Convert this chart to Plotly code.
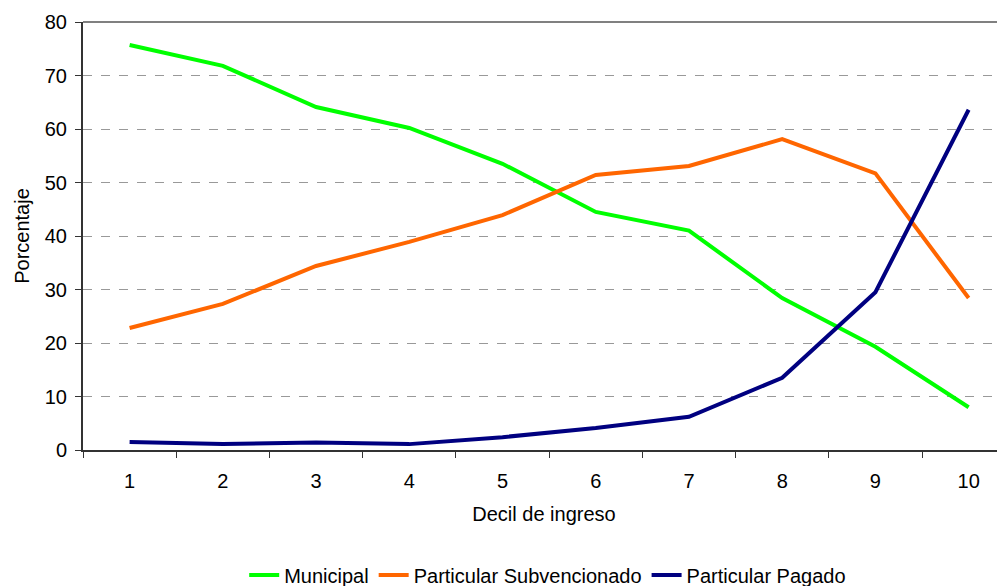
import plotly.graph_objects as go

deciles = [1, 2, 3, 4, 5, 6, 7, 8, 9, 10]
municipal = [75.7, 71.8, 64.1, 60.2, 53.5, 44.5, 41.0, 28.4, 19.3, 8.0]
subvencionado = [22.8, 27.3, 34.4, 38.9, 43.9, 51.4, 53.1, 58.1, 51.7, 28.4]
pagado = [1.5, 1.1, 1.4, 1.1, 2.4, 4.1, 6.2, 13.5, 29.5, 63.6]
y_ticks = [0, 10, 20, 30, 40, 50, 60, 70, 80]

FONT = "Liberation Sans, Arial, sans-serif"
FS = 20

fig = go.Figure()
for name, vals, color in [
    ("Municipal", municipal, "#00FF00"),
    ("Particular Subvencionado", subvencionado, "#FF6600"),
    ("Particular Pagado", pagado, "#000080"),
]:
    fig.add_trace(go.Scatter(x=deciles, y=vals, mode="lines", name=name,
                             line=dict(color=color, width=4)))

fig.update_layout(
    width=997, height=578,
    margin=dict(l=75, r=0, t=14, b=136, autoexpand=False),
    paper_bgcolor="white", plot_bgcolor="white",
    font=dict(family=FONT, size=FS, color="#000000"),
    showlegend=True,
    legend=dict(orientation="h", x=0.504, xanchor="center",
                y=-0.292, yanchor="middle",
                font=dict(size=FS), tracegroupgap=0),
    xaxis=dict(
        range=[0.5, 10.39], tickvals=deciles, ticktext=[str(d) for d in deciles],
        ticks="", showgrid=False, zeroline=False,
        showline=True, linecolor="#333333", linewidth=2,
        tickfont=dict(size=FS), ticklabelstandoff=12,
        minor=dict(ticks="outside", tick0=0.5, dtick=1, ticklen=6,
                   tickcolor="#333333", tickwidth=1, showgrid=False),
        title=dict(text="Decil de ingreso", font=dict(size=FS), standoff=16),
    ),
    yaxis=dict(
        range=[0, 80], tickvals=y_ticks, ticks="outside", ticklen=6,
        tickcolor="#333333", showgrid=True, gridcolor="#999999", griddash="dash",
        gridwidth=1, zeroline=False, showline=True, linecolor="#333333", linewidth=2,
        tickfont=dict(size=FS), ticklabelstandoff=4,
        title=dict(text="Porcentaje", font=dict(size=FS), standoff=10),
    ),
    shapes=[dict(type="line", xref="paper", yref="paper", x0=0, x1=1, y0=1, y1=1,
                 line=dict(color="#808080", width=2))],
)

fig.write_html("out.html")
